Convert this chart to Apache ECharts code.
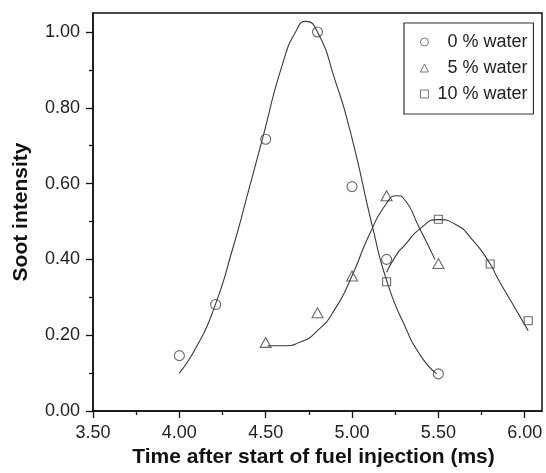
<!DOCTYPE html>
<html>
<head>
<meta charset="utf-8">
<script src="https://cdn.jsdelivr.net/npm/echarts@6/dist/echarts.min.js"></script>
<style>
  html, body { margin: 0; padding: 0; background: #fff; }
  #chart { width: 546px; height: 473px; }
</style>
</head>
<body>
<div id="chart"></div>
<script>
var dom = document.getElementById('chart');
var myChart = echarts.init(dom, null, { renderer: 'canvas' });

// measured points
var water0 = [[4.00, 0.146], [4.21, 0.281], [4.50, 0.717], [4.80, 1.000], [5.00, 0.592], [5.20, 0.400], [5.50, 0.098]];
var water5 = [[4.50, 0.181], [4.80, 0.259], [5.00, 0.356], [5.20, 0.568], [5.50, 0.389]];
var water10 = [[5.20, 0.341], [5.50, 0.506], [5.80, 0.388], [6.02, 0.238]];

// fitted curves
var fit0X = [4.00, 4.10, 4.20, 4.31, 4.40, 4.48, 4.60, 4.68, 4.73, 4.80, 4.90, 4.99, 5.12, 5.20, 5.30, 5.40, 5.49];
var fit0Y = [0.100, 0.170, 0.270, 0.430, 0.580, 0.716, 0.919, 1.006, 1.028, 1.000, 0.875, 0.737, 0.483, 0.345, 0.230, 0.144, 0.098];
var fit5X = [4.51, 4.60, 4.70, 4.80, 4.90, 5.00, 5.10, 5.20, 5.26, 5.30, 5.39, 5.48];
var fit5Y = [0.172, 0.172, 0.182, 0.212, 0.268, 0.357, 0.465, 0.548, 0.568, 0.560, 0.483, 0.400];
var fit10X = [5.20, 5.26, 5.30, 5.40, 5.50, 5.60, 5.70, 5.80, 5.84, 5.92, 6.02];
var fit10Y = [0.366, 0.414, 0.435, 0.483, 0.505, 0.492, 0.450, 0.388, 0.353, 0.290, 0.212];

var xMajor = [3.5, 4.0, 4.5, 5.0, 5.5, 6.0];
var xMinor = [3.75, 4.25, 4.75, 5.25, 5.75];
var yMajor = [0, 0.2, 0.4, 0.6, 0.8, 1.0];
var yMinor = [0.1, 0.3, 0.5, 0.7, 0.9];

var names = ['0 % water', '5 % water', '10 % water'];

function pairs(xs, ys) {
    var out = [];
    for (var i = 0; i < xs.length; i++) out.push([xs[i], ys[i]]);
    return out;
}

var font = "'Liberation Sans', Arial, sans-serif";
var ink = '#222';
var markColor = '#444';

function markerSeries(name, data, symbol, size) {
    return {
        name: name,
        type: 'scatter',
        data: data,
        symbol: symbol,
        symbolSize: size,
        z: 3,
        itemStyle: { color: 'rgba(255,255,255,0)', borderColor: markColor, borderWidth: 1.1 }
    };
}

function curveSeries(data) {
    return {
        type: 'line',
        data: data,
        smooth: 0.6,
        showSymbol: false,
        silent: true,
        z: 2,
        lineStyle: { color: '#3a3a3a', width: 1.1 }
    };
}

var option = {
    animation: false,
    backgroundColor: '#fff',
    textStyle: { fontFamily: font },
    grid: {
        left: 93, right: 4, top: 13, bottom: 58,
        show: true, borderColor: '#111', borderWidth: 1.5
    },
    legend: {
        data: names,
        orient: 'vertical',
        left: 404, top: 23,
        padding: [10, 6, 11, 16],
        itemGap: 8,
        itemWidth: 8, itemHeight: 8,
        borderColor: '#333', borderWidth: 1.2,
        backgroundColor: '#fff',
        formatter: function (n) { return '{t|' + n + '}'; },
        itemStyle: { borderWidth: 0.9 },
        textStyle: {
            rich: { t: { width: 94, align: 'right', fontSize: 18, lineHeight: 17, color: ink, fontFamily: font } }
        }
    },
    xAxis: [
        {
            type: 'value', min: 3.5, max: 6.1,
            name: 'Time after start of fuel injection (ms)',
            nameLocation: 'middle', nameGap: 36,
            nameTextStyle: { fontSize: 21, fontWeight: 'bold', color: '#111', padding: [0, 8, 0, 0] },
            axisLine: { show: true, lineStyle: { color: '#111', width: 1.5 } },
            axisTick: { show: true, inside: false, length: 7, lineStyle: { color: '#111', width: 1.3 }, customValues: xMajor },
            axisLabel: {
                fontSize: 18, color: ink, margin: 13, customValues: xMajor,
                formatter: function (v) { return v.toFixed(2); }
            },
            splitLine: { show: false }
        },
        {
            type: 'value', min: 3.5, max: 6.1, position: 'bottom',
            axisLine: { show: false },
            axisTick: { show: true, inside: false, length: 4, lineStyle: { color: '#111', width: 1.3 }, customValues: xMinor },
            axisLabel: { show: false },
            splitLine: { show: false }
        }
    ],
    yAxis: [
        {
            type: 'value', min: 0, max: 1.05,
            name: 'Soot intensity',
            nameLocation: 'middle', nameGap: 61,
            nameTextStyle: { fontSize: 21, fontWeight: 'bold', color: '#111' },
            axisLine: { show: true, lineStyle: { color: '#111', width: 1.5 } },
            axisTick: { show: true, inside: false, length: 7, lineStyle: { color: '#111', width: 1.3 }, customValues: yMajor },
            axisLabel: {
                fontSize: 18, color: ink, margin: 13, customValues: yMajor,
                formatter: function (v) { return v.toFixed(2); }
            },
            splitLine: { show: false }
        },
        {
            type: 'value', min: 0, max: 1.05, position: 'left',
            axisLine: { show: false },
            axisTick: { show: true, inside: false, length: 4, lineStyle: { color: '#111', width: 1.3 }, customValues: yMinor },
            axisLabel: { show: false },
            splitLine: { show: false }
        }
    ],
    series: [
        curveSeries(pairs(fit0X, fit0Y)),
        curveSeries(pairs(fit5X, fit5Y)),
        curveSeries(pairs(fit10X, fit10Y)),
        markerSeries(names[0], water0, 'circle', 10),
        markerSeries(names[1], water5, 'triangle', [11, 10]),
        markerSeries(names[2], water10, 'rect', 8)
    ]
};

myChart.setOption(option);
window.addEventListener('resize', myChart.resize);
</script>
</body>
</html>
